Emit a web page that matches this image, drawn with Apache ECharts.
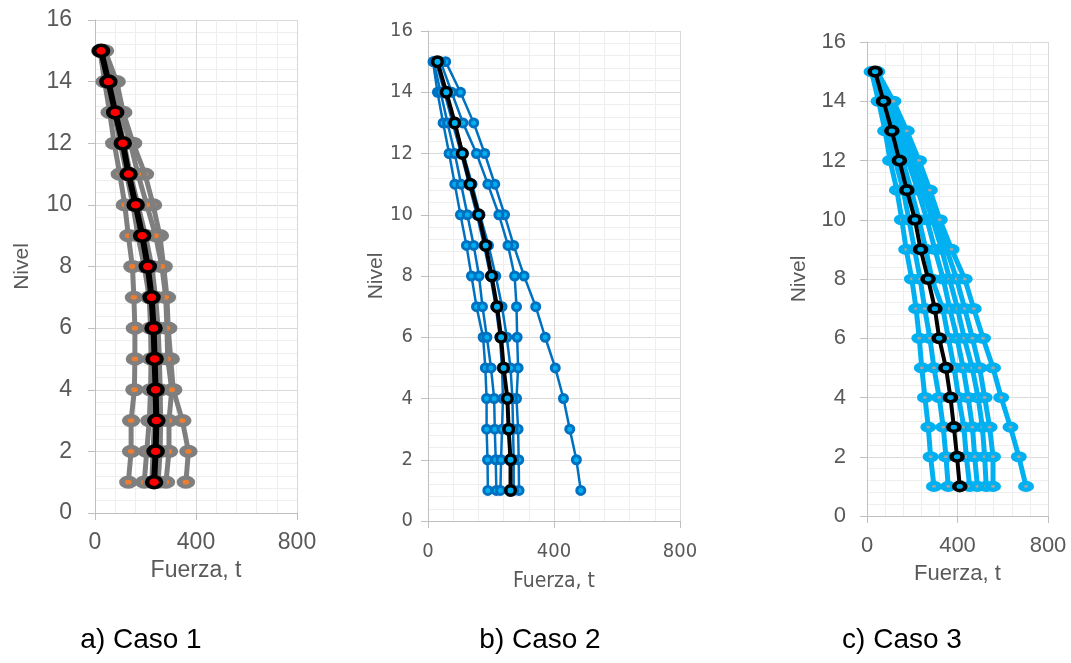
<!DOCTYPE html>
<html>
<head>
<meta charset="utf-8">
<script src="https://cdn.jsdelivr.net/npm/echarts@6/dist/echarts.min.js"></script>
<style>html,body{margin:0;padding:0;background:#fff}#c{width:1071px;height:663px}</style>
</head>
<body>
<div id="c"></div>
<script>
// ---- DATA (values for levels 1..15) ----
const levels = [1,2,3,4,5,6,7,8,9,10,11,12,13,14,15];
const xMax = 800, xStep = 400, yMax = 16, yStep = 2;
const xAxisName = 'Fuerza, t';
const yAxisName = 'Nivel';
const captions = ['a) Caso 1', 'b) Caso 2', 'c) Caso 3'];

// Caso 1
const c1_r1 = [132,143,143,156,158,158,154,148,132,118,98,76,58,38,20];
const c1_r2 = [360,370,346,310,300,290,285,272,257,230,198,151,112,86,40];
const c1_r3 = [281,293,293,304,288,285,280,265,240,205,170,140,100,70,35];
const c1_r4 = [195,205,215,220,222,220,215,200,180,155,130,105,75,50,25];
const c1_r5 = [250,258,260,258,255,250,240,225,200,170,140,115,85,55,28];
const c1_r6 = [225,230,235,232,230,225,215,195,170,150,125,100,75,48,22];
const c1_mean = [234,240,243,240,236,232,224,209,187,161,133,110,80,53,24];

// Caso 2
const c2_r1 = [190,189,186,186,182,175,154,138,122,103,85,67,48,30,16];
const c2_r2 = [485,471,450,430,404,372,342,305,272,243,212,180,145,103,56];
const c2_r3 = [289,288,286,281,286,283,281,275,254,225,190,154,111,75,40];
const c2_r4 = [217,215,212,210,200,187,173,162,145,125,105,85,62,40,18];
const c2_r5 = [230,232,235,238,235,228,215,198,178,155,130,105,78,52,25];
const c2_r6 = [272,272,270,268,262,250,235,215,192,165,140,112,84,58,30];
const c2_mean = [262,262,256,252,240,232,219,202,183,161,134,109,85,58,30];

// Caso 3
const c3_r1 = [296,281,271,256,242,231,217,198,173,154,132,102,80,51,20];
const c3_r2 = [359,349,337,319,296,278,255,235,210,185,160,125,95,62,30];
const c3_r3 = [454,439,428,405,385,360,335,287,260,230,195,158,120,80,38];
const c3_r4 = [488,476,466,447,425,398,366,337,300,265,225,180,135,90,40];
const c3_r5 = [527,520,510,491,465,430,400,365,330,290,245,195,145,100,42];
const c3_r6 = [557,557,542,520,498,466,432,396,352,305,261,208,158,110,44];
const c3_r7 = [703,671,634,593,557,513,472,432,374,322,278,230,176,117,45];
const c3_mean = [410,398,384,369,349,319,300,270,237,212,176,143,110,73,36];

const caso1 = [c1_r1,c1_r2,c1_r3,c1_r4,c1_r5,c1_r6];
const caso2 = [c2_r1,c2_r2,c2_r3,c2_r4,c2_r5,c2_r6];
const caso3 = [c3_r1,c3_r2,c3_r3,c3_r4,c3_r5,c3_r6,c3_r7];
const means = [c1_mean, c2_mean, c3_mean];

// ---- LAYOUT / STYLE ----
const SANS = '"Liberation Sans", Arial, sans-serif';
const NARROW = '"Liberation Sans Narrow", "DejaVu Sans Condensed", Arial, sans-serif';
const panels = [
  {grid:{left:95, top:20, width:202, height:493}, font:SANS, lab:23, name:23, labMargin:18, yLabMargin:23, xGap:46, yGap:62, nameFont:SANS,
   line:{color:'#7f7f7f', width:5}, item:{color:'#ed7d31', borderColor:'#7f7f7f', borderWidth:5}, size:[12.5,9],
   mline:{color:'#000', width:6}, mitem:{color:'#ff0000', borderColor:'#000', borderWidth:4}, msize:[14,11]},
  {grid:{left:428, top:31, width:252, height:490}, font:NARROW, lab:20, name:21, labMargin:21, yLabMargin:15, xGap:50, yGap:26, nameFont:NARROW,
   line:{color:'#0070c0', width:2.5}, item:{color:'#00b0f0', borderColor:'#0070c0', borderWidth:3}, size:[8,8],
   mline:{color:'#000', width:4}, mitem:{color:'#00b0f0', borderColor:'#000', borderWidth:3.5}, msize:[9.5,9.5]},
  {grid:{left:867, top:42, width:181, height:474}, font:SANS, lab:22, name:22, labMargin:19, yLabMargin:21, xGap:47, yGap:57, nameFont:SANS,
   line:{color:'#00b0f0', width:5}, item:{color:'#a5a5a5', borderColor:'#00b0f0', borderWidth:5}, size:[10,7],
   mline:{color:'#000', width:4}, mitem:{color:'#00b0f0', borderColor:'#000', borderWidth:4}, msize:[11,8.5]}
];
const captionPos = [{x:141, y:640}, {x:540, y:640}, {x:902, y:640}];

function pairs(vals){ return vals.map((v,i)=>[v, levels[i]]); }

const grids = [], xAxes = [], yAxes = [], series = [];
const groups = [caso1, caso2, caso3];
panels.forEach((p, k) => {
  grids.push(p.grid);
  xAxes.push({
    type:'value', gridIndex:k, min:0, max:xMax, interval:xStep,
    name:xAxisName, nameLocation:'middle', nameGap:p.xGap,
    nameTextStyle:{color:'#595959', fontSize:p.name, fontFamily:p.nameFont},
    axisLine:{show:true, onZero:false, lineStyle:{color:'#bfbfbf', width:1}},
    axisTick:{show:true, length:7, lineStyle:{color:'#bfbfbf'}},
    axisLabel:{color:'#595959', fontSize:p.lab, fontFamily:p.font, margin:p.labMargin},
    splitLine:{show:true, lineStyle:{color:'#d9d9d9', width:1}},
    minorTick:{show:false, splitNumber:5},
    minorSplitLine:{show:true, lineStyle:{color:'#eeeeee', width:1}}
  });
  yAxes.push({
    type:'value', gridIndex:k, min:0, max:yMax, interval:yStep,
    name:yAxisName, nameLocation:'middle', nameGap:p.yGap, nameRotate:90,
    nameTextStyle:{color:'#595959', fontSize:21, fontFamily:SANS},
    axisLine:{show:true, onZero:false, lineStyle:{color:'#bfbfbf', width:1}},
    axisTick:{show:true, length:7, lineStyle:{color:'#bfbfbf'}},
    axisLabel:{color:'#595959', fontSize:p.lab, fontFamily:p.font, margin:p.yLabMargin},
    splitLine:{show:true, lineStyle:{color:'#d9d9d9', width:1}},
    minorTick:{show:false, splitNumber:5},
    minorSplitLine:{show:true, lineStyle:{color:'#eeeeee', width:1}}
  });
  groups[k].forEach(vals => {
    series.push({
      type:'line', xAxisIndex:k, yAxisIndex:k, data:pairs(vals),
      symbol:'circle', symbolSize:p.size, showSymbol:true, animation:false,
      lineStyle:p.line, itemStyle:p.item, z:2, silent:true
    });
  });
  series.push({
    type:'line', xAxisIndex:k, yAxisIndex:k, data:pairs(means[k]),
    symbol:'circle', symbolSize:p.msize, showSymbol:true, animation:false,
    lineStyle:p.mline, itemStyle:p.mitem, z:5, silent:true
  });
});

const chart = echarts.init(document.getElementById('c'), null, {renderer:'canvas'});
chart.setOption({
  animation:false,
  backgroundColor:'#ffffff',
  grid:grids, xAxis:xAxes, yAxis:yAxes, series:series,
  graphic: captions.map((t,i)=>({
    type:'text', x:captionPos[i].x, y:captionPos[i].y,
    style:{text:t, fill:'#000', font:'28px "Liberation Sans", Arial, sans-serif', textAlign:'center', textVerticalAlign:'middle'}
  }))
});
</script>
</body>
</html>
